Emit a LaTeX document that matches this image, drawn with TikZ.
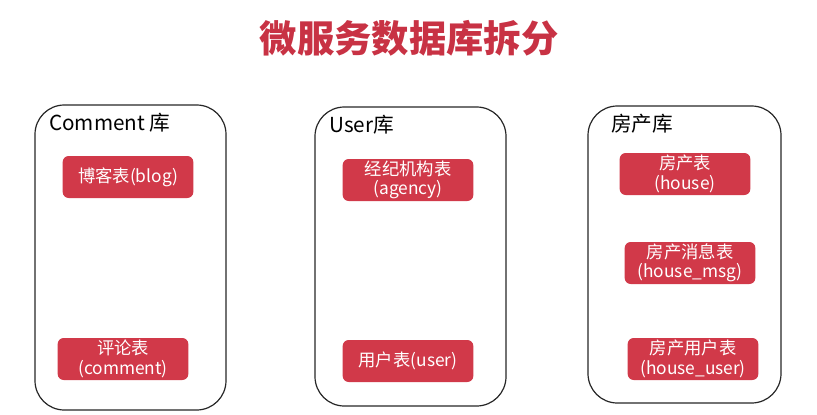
\documentclass[tikz,border=0pt]{standalone}
\usepackage{fontspec}
\newfontfamily\cjk{Noto Sans CJK SC}
\definecolor{titlered}{RGB}{200,50,68}
\definecolor{tablered}{RGB}{209,57,73}
\begin{document}
\begin{tikzpicture}[x=0.75pt,y=-0.75pt,
    title/.style={text=titlered, font=\cjk\bfseries\fontsize{28}{32}\selectfont},
    dbbox/.style={draw=black!85, line width=0.9pt, rounded corners=22pt},
    dblabel/.style={anchor=west, inner sep=0pt, font=\cjk\fontsize{15.5}{18}\selectfont},
    table/.style={fill=tablered, text=white, rounded corners=4.5pt, align=center,
        minimum width=98pt, minimum height=31.5pt, inner sep=1pt,
        font=\cjk\fontsize{13}{14.5}\selectfont}]
        \useasboundingbox (0,0) rectangle (817,414);

        % 标题
        \node[title] (title) at (409,38) {微服务数据库拆分};

        % Comment 库
        \draw[dbbox] (35,105) rectangle (226,410);
        \node[dblabel] (commentdb) at (49,123) {Comment 库};
        \node[table] (blog) at (128,177) {博客表(blog)};
        \node[table] (comment) at (123,359) {评论表\\(comment)};

        % User 库
        \draw[dbbox] (315,107) rectangle (506,406);
        \node[dblabel] (userdb) at (329,125) {User库};
        \node[table] (agency) at (408,180) {经纪机构表\\(agency)};
        \node[table] (user) at (408,361) {用户表(user)};

        % 房产库
        \draw[dbbox] (588,106) rectangle (781,403);
        \node[dblabel] (housedb) at (611,124) {房产库};
        \node[table] (house) at (685,174) {房产表\\(house)};
        \node[table] (housemsg) at (690,263) {房产消息表\\(house\_msg)};
        \node[table] (houseuser) at (693,359) {房产用户表\\(house\_user)};
    \end{tikzpicture}
\end{document}
